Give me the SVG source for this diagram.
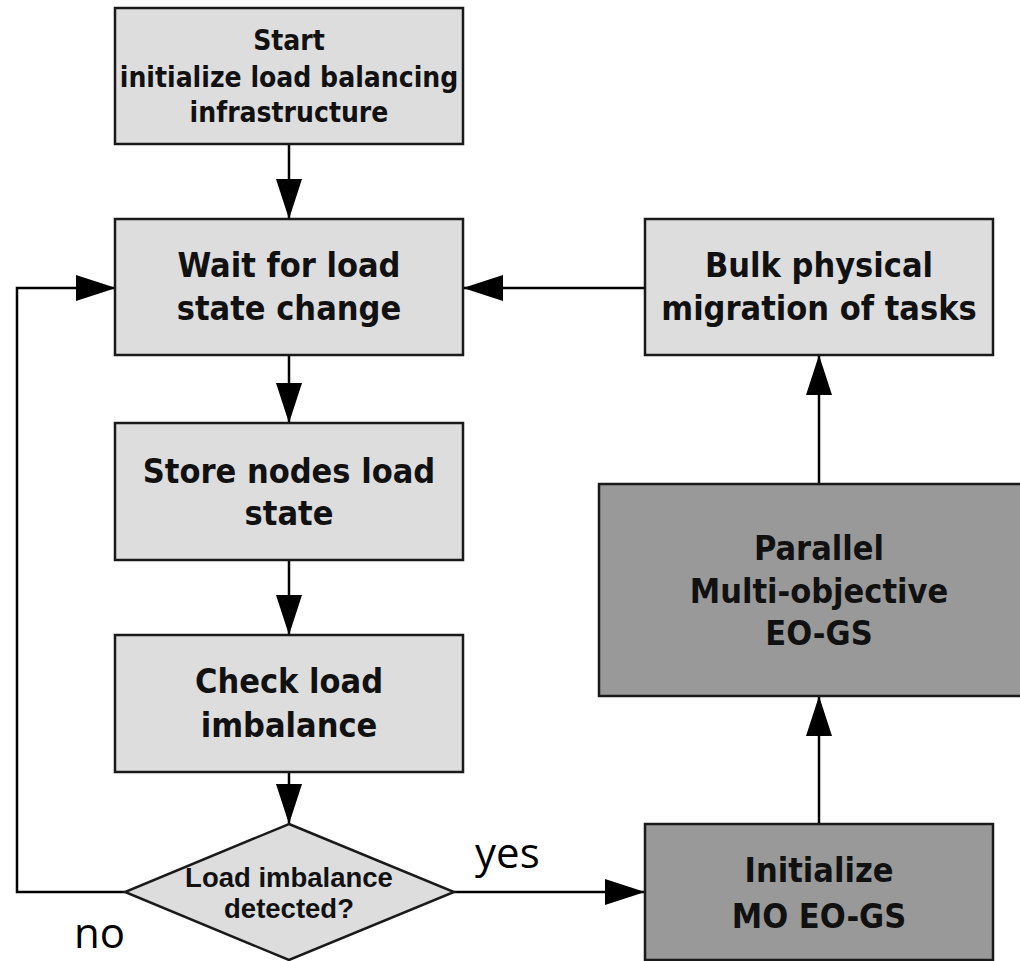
<svg xmlns="http://www.w3.org/2000/svg" width="1020" height="961" viewBox="0 0 1020 961">
<defs>
<marker id="ah" markerUnits="userSpaceOnUse" markerWidth="40" markerHeight="26" refX="40" refY="13" orient="auto">
<path d="M0,0 L40,13 L0,26 z" fill="#000"/>
</marker>
<style>
.box{fill:#dddddd;stroke:#1a1a1a;stroke-width:2.5}
.dark{fill:#999999;stroke:#1a1a1a;stroke-width:2.5}
.t{font-family:"DejaVu Sans Condensed","DejaVu Sans",sans-serif;font-weight:bold;fill:#111;text-anchor:middle}
.big{font-size:34px}
.small{font-size:28px}
.dt{font-family:"Liberation Sans",Arial,sans-serif;font-weight:bold;font-size:27.5px;fill:#111;text-anchor:middle}
.lbl{font-family:"Open Sans",sans-serif;font-size:42px;fill:#000}
.c{fill:none;stroke:#000;stroke-width:2.5}
</style>
</defs>
<rect width="1020" height="961" fill="#fff"/>
<g id="connectors">
<line class="c" x1="289" y1="144" x2="289" y2="219" marker-end="url(#ah)"/>
<line class="c" x1="289" y1="355" x2="289" y2="423" marker-end="url(#ah)"/>
<line class="c" x1="289" y1="560" x2="289" y2="635" marker-end="url(#ah)"/>
<line class="c" x1="289" y1="772" x2="289" y2="824" marker-end="url(#ah)"/>
<line class="c" x1="454" y1="892" x2="645" y2="892" marker-end="url(#ah)"/>
<line class="c" x1="819" y1="824" x2="819" y2="696" marker-end="url(#ah)"/>
<line class="c" x1="819" y1="484" x2="819" y2="355" marker-end="url(#ah)"/>
<line class="c" x1="645" y1="288" x2="463" y2="288" marker-end="url(#ah)"/>
<polyline class="c" points="125,892 17,892 17,288 116,288" marker-end="url(#ah)"/>
<text class="lbl" x="475" y="868">yes</text>
<text class="lbl" x="74" y="948">no</text>
</g>
<g id="start">
<rect class="box" x="115" y="8" width="348" height="136"/>
<text class="t small" x="289" y="50">Start</text>
<text class="t small" x="289" y="87">initialize load balancing</text>
<text class="t small" x="289" y="122">infrastructure</text>
</g>
<g id="wait">
<rect class="box" x="115" y="219" width="348" height="136"/>
<text class="t big" x="289" y="277">Wait for load</text>
<text class="t big" x="289" y="320">state change</text>
</g>
<g id="store">
<rect class="box" x="115" y="423" width="348" height="137"/>
<text class="t big" x="289" y="483">Store nodes load</text>
<text class="t big" x="289" y="525">state</text>
</g>
<g id="check">
<rect class="box" x="115" y="635" width="348" height="137"/>
<text class="t big" x="289" y="693">Check load</text>
<text class="t big" x="289" y="737">imbalance</text>
</g>
<g id="decision">
<polygon class="box" points="289,824 454,892 289,960 125,892"/>
<text class="dt" x="289" y="887">Load imbalance</text>
<text class="dt" x="289" y="918">detected?</text>
</g>
<g id="bulk">
<rect class="box" x="645" y="219" width="348" height="136"/>
<text class="t big" x="819" y="277">Bulk physical</text>
<text class="t big" x="819" y="320">migration of tasks</text>
</g>
<g id="parallel">
<rect class="dark" x="599" y="484" width="440" height="212"/>
<text class="t big" x="819" y="560">Parallel</text>
<text class="t big" x="819" y="603">Multi-objective</text>
<text class="t big" x="819" y="645">EO-GS</text>
</g>
<g id="init">
<rect class="dark" x="645" y="824" width="348" height="136"/>
<text class="t big" x="819" y="882">Initialize</text>
<text class="t big" x="819" y="928">MO EO-GS</text>
</g>
</svg>
